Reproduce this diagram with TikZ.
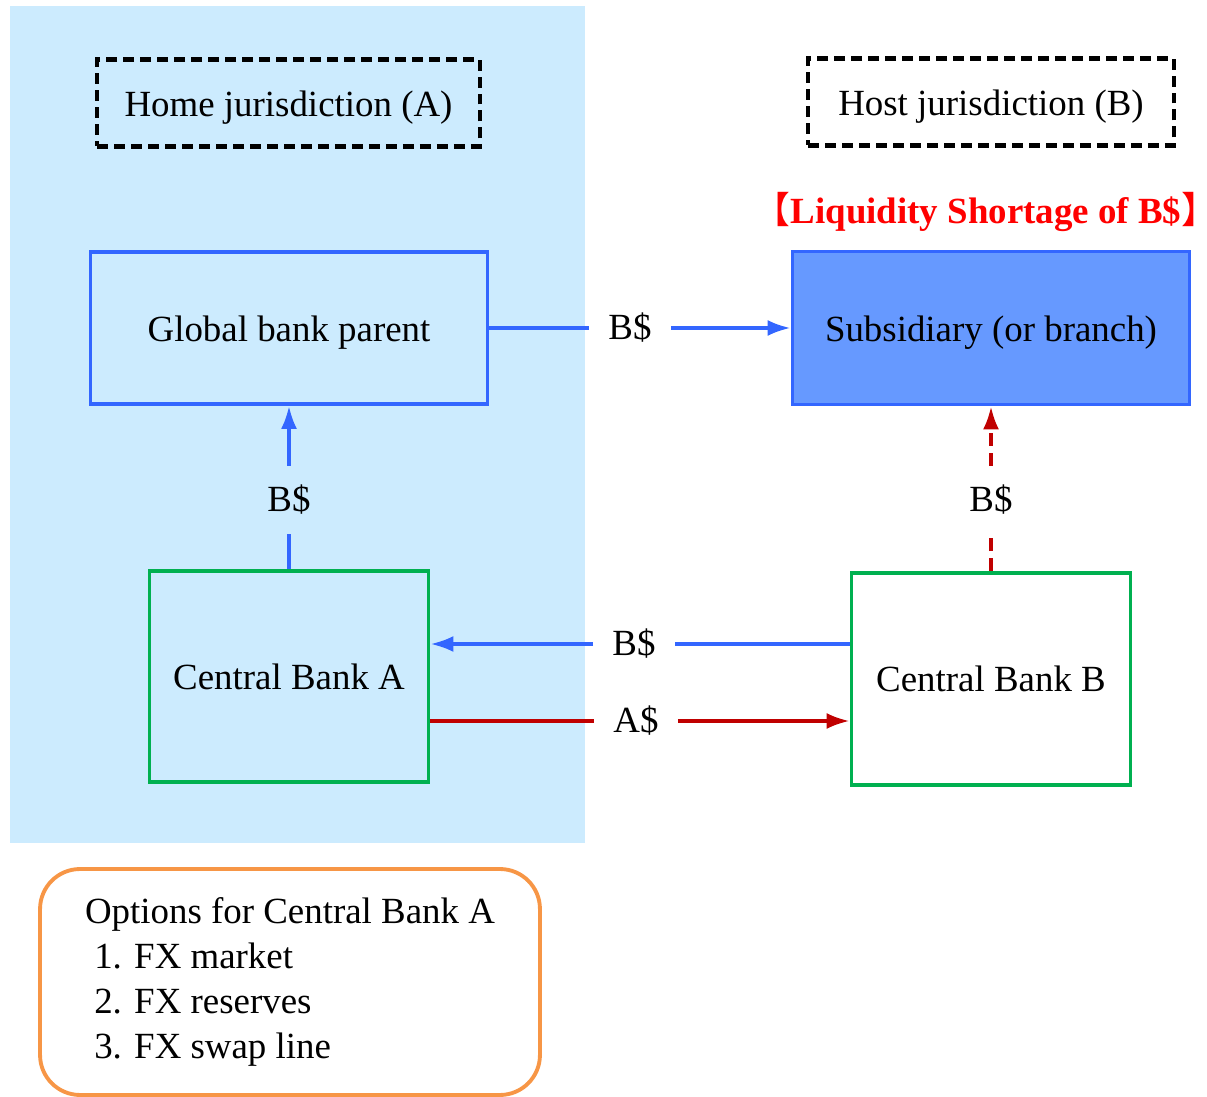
\documentclass[tikz,border=0pt]{standalone}
\usepackage{fontspec}
\setmainfont{Liberation Serif}
\newfontfamily\cjk{Noto Sans CJK SC}
\usepackage{xcolor}
\usepackage{tikz}
\usetikzlibrary{arrows.meta}

\definecolor{homebg}{RGB}{204,235,254}
\definecolor{lineblue}{RGB}{51,102,255}
\definecolor{subfill}{RGB}{102,153,255}
\definecolor{cbgreen}{RGB}{0,176,80}
\definecolor{darkred}{RGB}{192,0,0}
\definecolor{optorange}{RGB}{247,150,70}

\begin{document}
\begin{tikzpicture}[
    x=0.02cm, y=-0.02cm,
    font=\fontsize{21}{25.6}\selectfont,
    jurisdiction/.style={rectangle, draw=black, line width=2.3pt, dash pattern=on 0.22cm off 0.12cm, minimum height=1.74cm, text height=20pt, text depth=4.5pt},
    bank/.style={rectangle, draw=lineblue, line width=2.2pt, minimum width=7.94cm, minimum height=3.04cm, text height=20pt, text depth=4.5pt},
    central/.style={rectangle, draw=cbgreen, line width=2.2pt, minimum width=5.58cm, minimum height=4.22cm},
    flow/.style={inner sep=0.38cm},
    bline/.style={draw=lineblue, line width=2pt},
    rline/.style={draw=darkred, line width=2pt},
    tip/.style={-{Latex[length=0.46cm, width=0.32cm]}}
]
\useasboundingbox (0,0) rectangle (1207,1097);

% home jurisdiction shading
\fill[homebg] (10,6) rectangle (585,843);

% jurisdiction labels
\node[jurisdiction, minimum width=7.66cm] (home) at (288.5,103) {Home jurisdiction (A)};
\node[jurisdiction, minimum width=7.32cm] (host) at (991,102) {Host jurisdiction (B)};
\node[text=red, inner sep=0pt] (shortage) at (986,212) {{\cjk 【}\textbf{Liquidity Shortage of B\$}{\cjk 】}};

% banks
\node[bank] (parent) at (289,328) {Global bank parent};
\node[bank, fill=subfill, minimum height=3.06cm] (sub) at (991,328) {Subsidiary (or branch)};
\node[central] (cbA) at (289,676.5) {Central Bank A};
\node[central, fill=white, minimum height=4.24cm] (cbB) at (991,679) {Central Bank B};

% flow labels
\node[flow] (pflow) at (630,328) {B\$};
\node[flow] (aflow) at (289,500) {B\$};
\node[flow] (bflow) at (991,500) {B\$};
\node[flow] (swapB) at (634,644) {B\$};
\node[flow] (swapA) at (636,721) {A\$};

% flows
\draw[bline] (parent) -- (pflow);
\draw[bline, tip] (pflow) -- (sub);
\draw[bline] (cbA) -- (aflow);
\draw[bline, tip] (aflow) -- (parent);
\draw[rline, dash pattern=on 0.26cm off 0.14cm] (cbB) -- (bflow);
\draw[rline, dash pattern=on 0.26cm off 0.14cm, tip] (bflow) -- (sub);
\draw[bline] (cbB.west |- swapB) -- (swapB);
\draw[bline, tip] (swapB) -- (cbA.east |- swapB);
\draw[rline] (cbA.east |- swapA) -- (swapA);
\draw[rline, tip] (swapA) -- (cbB.west |- swapA);

% options box
\node[rectangle, draw=optorange, line width=2.2pt, rounded corners=0.8cm,
      minimum width=10cm, minimum height=4.52cm, align=left] (options) at (290,982)
    {Options for Central Bank A\\
     ~1. FX market\\
     ~2. FX reserves\\
     ~3. FX swap line};

\end{tikzpicture}
\end{document}
